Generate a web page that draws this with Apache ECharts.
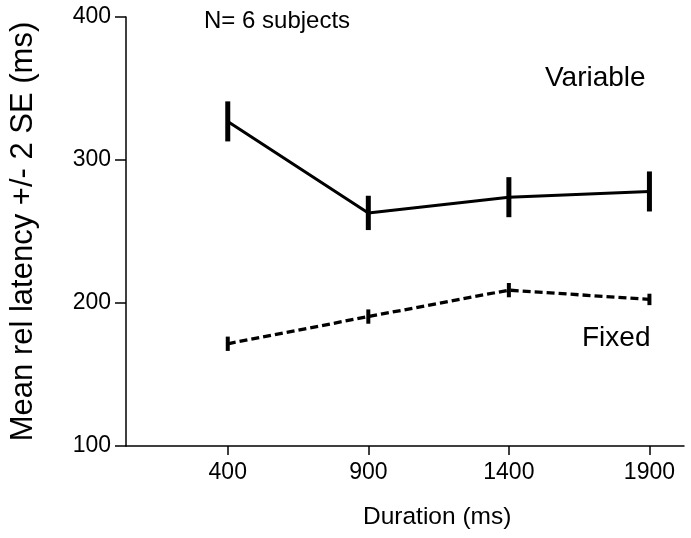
<!DOCTYPE html>
<html><head><meta charset="utf-8">
<script src="https://cdn.jsdelivr.net/npm/echarts@6/dist/echarts.min.js"></script>
<style>html,body{margin:0;padding:0;background:#fff}#c{width:691px;height:538px}</style>
</head><body><div id="c"></div>
<script>
var durations = [400, 900, 1400, 1900];
var xTicks = [400, 900, 1400, 1900];
var yTicks = [100, 200, 300, 400];
var variableMean = [327, 263, 274, 278];
var variableErr = [14, 12, 14, 14];
var fixedMean = [171.5, 190.5, 209, 202.5];
var fixedErr = [5, 5, 5, 4];

function pts(m){ return durations.map(function(d,i){ return [d, m[i]]; }); }
function errData(m,e){ return durations.map(function(d,i){ return [d, m[i]-e[i], m[i]+e[i]]; }); }
function errSeries(m,e,w){
  return {type:'custom', data: errData(m,e), z:5,
    renderItem:function(params, api){
      var x = api.value(0);
      var p1 = api.coord([x, api.value(1)]);
      var p2 = api.coord([x, api.value(2)]);
      return {type:'line', shape:{x1:p1[0],y1:p1[1],x2:p2[0],y2:p2[1]}, style:{stroke:'#000', lineWidth:w}};
    }};
}
var font = '"Liberation Sans", Arial, sans-serif';
var chart = echarts.init(document.getElementById('c'), null, {renderer:'canvas'});
chart.setOption({
  animation:false,
  backgroundColor:'#fff',
  grid:{left:122, top:17, right:7, bottom:92, containLabel:false},
  xAxis:{type:'value', min:38, max:2023,
    axisLine:{show:true, onZero:false, lineStyle:{color:'#000', width:1.5}},
    axisTick:{show:true, length:9, customValues:xTicks, lineStyle:{color:'#000', width:1.5}},
    axisLabel:{customValues:xTicks, fontFamily:font, fontSize:23, color:'#000', margin:15,
      formatter:function(v){ return String(v); }},
    splitLine:{show:false}},
  yAxis:{type:'value', min:100, max:400, interval:100,
    name:'Mean rel latency +/- 2 SE (ms)', nameLocation:'middle', nameGap:87, nameRotate:90,
    nameTextStyle:{fontFamily:font, fontSize:31, color:'#000'},
    axisLine:{show:true, lineStyle:{color:'#000', width:1.5}},
    axisTick:{show:true, length:11, lineStyle:{color:'#000', width:1.5}},
    axisLabel:{fontFamily:font, fontSize:23, color:'#000', margin:15},
    splitLine:{show:false}},
  graphic:[
    {type:'text', left:204, top:9, style:{text:'N= 6 subjects', font:'24px ' + font, fill:'#000'}},
    {type:'text', left:545, top:64, style:{text:'Variable', font:'28px ' + font, fill:'#000'}},
    {type:'text', left:582, top:324, style:{text:'Fixed', font:'28px ' + font, fill:'#000'}},
    {type:'text', left:363, top:505, style:{text:'Duration (ms)', font:'24.5px ' + font, fill:'#000'}}
  ],
  series:[
    {type:'line', data:pts(variableMean), symbol:'none', lineStyle:{color:'#000', width:3}, z:3},
    {type:'line', data:pts(fixedMean), symbol:'none', lineStyle:{color:'#000', width:3.3, type:[8,4]}, z:3},
    errSeries(variableMean, variableErr, 5),
    errSeries(fixedMean, fixedErr, 4)
  ]
});
</script></body></html>
